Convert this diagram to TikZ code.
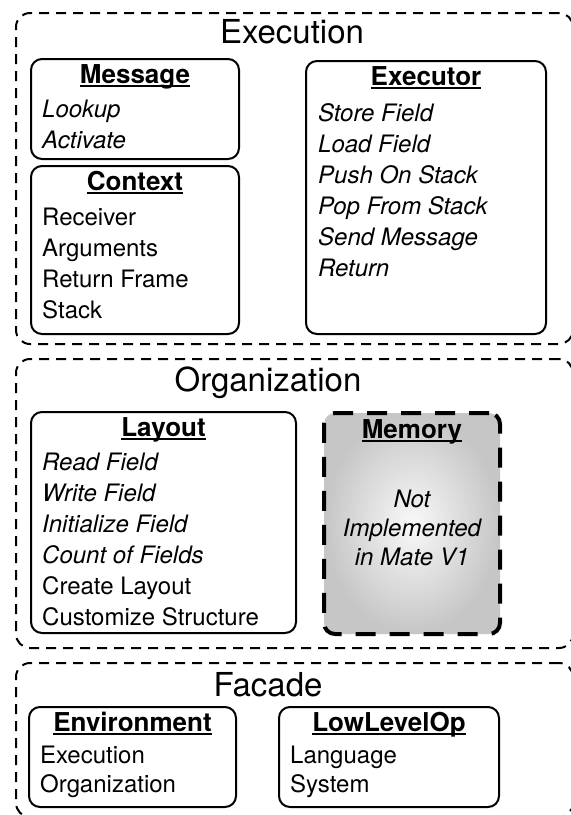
\documentclass[tikz,border=0pt]{standalone}
\usepackage{fontspec}
\setmainfont{TeX Gyre Heros}
\usetikzlibrary{positioning}

% underlined box heading
\newcommand{\headline}[1]{\setbox0\hbox{#1}\rlap{\rule[-4pt]{\wd0}{1.9pt}}\box0}

\begin{document}
\begin{tikzpicture}[x=1pt, y=-1pt,
    group/.style={draw, dash pattern=on 10pt off 7pt, line width=2pt, rounded corners=14pt, anchor=north west, inner sep=0pt},
    grouptitle/.style={font=\fontsize{33}{40}\selectfont, inner sep=0pt, anchor=base},
    box/.style={draw, line width=2pt, rounded corners=11pt, anchor=north west, inner sep=0pt},
    boxtitle/.style={font=\fontsize{26}{31}\selectfont\bfseries, inner sep=0pt, text height=19pt, anchor=north},
    items/.style={font=\fontsize{24}{31}\selectfont, align=left, inner sep=0pt},
    memorybox/.style={box, line width=4pt, dash pattern=on 20pt off 14pt, inner color=gray!5, outer color=gray!45}
  ]
  \useasboundingbox (0,0) rectangle (571,815);

  % Layers
  \node[group, minimum width=557pt, minimum height=331pt] (execution) at (15,12) {};
  \node[group, minimum width=557pt, minimum height=289pt] (organization) at (15,358) {};
  \node[group, minimum width=557pt, minimum height=154pt] (facade) at (15,662) {};

  \node[grouptitle] (executiontitle) at (292,43) {Execution};
  \node[grouptitle] (organizationtitle) at (268,391) {Organization};
  \node[grouptitle] (facadetitle) at (268,696) {Facade};

  % Execution
  \node[box, minimum width=208pt, minimum height=100pt] (message) at (30,58) {};
  \node[boxtitle, below=6pt of message.north] (messagetitle) {\headline{Message}};
  \node[items, below right=42pt and 12pt of message.north west] (messageitems) {\itshape Lookup\\\itshape Activate};

  \node[box, minimum width=208pt, minimum height=168pt] (context) at (30,165) {};
  \node[boxtitle, below=6pt of context.north] (contexttitle) {\headline{Context}};
  \node[items, below right=43pt and 12pt of context.north west] (contextitems) {Receiver\\Arguments\\Return Frame\\Stack};

  \node[box, minimum width=240pt, minimum height=273pt] (executor) at (305,60) {};
  \node[boxtitle, below=6pt of executor.north] (executortitle) {\headline{Executor}};
  \node[items, below right=43pt and 13pt of executor.north west, font=\fontsize{24}{31}\selectfont\itshape] (executoritems)
    {Store Field\\Load Field\\Push On Stack\\Pop From Stack\\Send Message\\Return};

  % Organization
  \node[box, minimum width=265pt, minimum height=221pt] (layout) at (30,411) {};
  \node[boxtitle, below=6pt of layout.north] (layouttitle) {\headline{Layout}};
  \node[items, below right=42pt and 12pt of layout.north west] (layoutitems)
    {\itshape Read Field\\\itshape Write Field\\\itshape Initialize Field\\\itshape Count of Fields\\Create Layout\\Customize Structure};

  \node[memorybox, minimum width=176pt, minimum height=221pt] (memory) at (322,411) {};
  \node[boxtitle, below=8pt of memory.north] (memorytitle) {\headline{Memory}};
  \node[items, align=center, anchor=north, below=79pt of memory.north, font=\fontsize{24}{29}\selectfont\itshape] (memorynote)
    {Not\\Implemented\\in Mate V1};

  % Facade
  \node[box, minimum width=207pt, minimum height=100pt] (environment) at (28,706) {};
  \node[boxtitle, below=6pt of environment.north] (environmenttitle) {\headline{Environment}};
  \node[items, below right=40pt and 12pt of environment.north west, font=\fontsize{24}{29}\selectfont] (environmentitems)
    {Execution\\Organization};

  \node[box, minimum width=220pt, minimum height=100pt] (lowlevelop) at (278,706) {};
  \node[boxtitle, below=6pt of lowlevelop.north] (lowleveloptitle) {\headline{LowLevelOp}};
  \node[items, below right=40pt and 12pt of lowlevelop.north west, font=\fontsize{24}{29}\selectfont] (lowlevelopitems)
    {Language\\System};
\end{tikzpicture}
\end{document}
